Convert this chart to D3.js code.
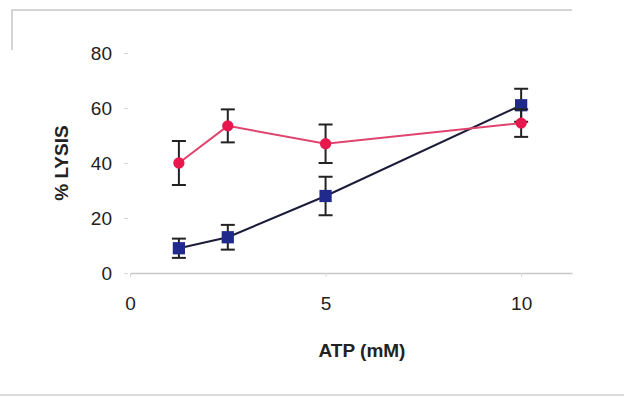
<!DOCTYPE html>
<html>
<head>
<meta charset="utf-8">
<script src="https://cdn.jsdelivr.net/npm/d3@7"></script>
<style>
  body { margin: 0; background: #fff; }
  svg { display: block; font-family: "Liberation Sans", Arial, sans-serif; }
</style>
</head>
<body>
<svg width="624" height="397"></svg>
<script>
// ATP concentrations (mM)
var atp = [1.25, 2.5, 5, 10];
// % lysis, red series (circles) and blue series (squares)
var redLysis = [40, 53.5, 47, 54.5];
var redErr = [8, 6, 7, 5];
var blueLysis = [9, 13, 28, 61];
var blueErr = [3.5, 4.5, 7, 6];
var yTicks = [0, 20, 40, 60, 80];
var xTicks = [0, 5, 10];

var svg = d3.select('svg');

var x = d3.scaleLinear().domain([0, 11.3]).range([130, 572]);
var y = d3.scaleLinear().domain([0, 80]).range([273, 53]);

// faint frame of the scanned figure
svg.append('path')
  .attr('d', 'M12,50 L12,10 L572,10')
  .attr('fill', 'none').attr('stroke', '#c8c8c8').attr('stroke-width', 1.5);
svg.append('line')
  .attr('x1', 0).attr('x2', 624).attr('y1', 395).attr('y2', 395)
  .attr('stroke', '#d0d0d0').attr('stroke-width', 1.5);

// x axis
var xAxis = svg.append('g')
  .attr('transform', 'translate(0,' + y(0) + ')')
  .call(d3.axisBottom(x).tickValues(xTicks).tickSize(4).tickPadding(20).tickSizeOuter(0));
xAxis.select('.domain').attr('stroke', '#c8c8c8').attr('stroke-width', 1.5);
xAxis.selectAll('.tick line').attr('stroke', '#d8d8d8');
xAxis.selectAll('text').attr('font-size', 19).attr('fill', '#222');

// y axis (no visible line, just faint ticks)
var yAxis = svg.append('g')
  .attr('transform', 'translate(128,0)')
  .call(d3.axisLeft(y).tickValues(yTicks).tickSize(4).tickPadding(12));
yAxis.select('.domain').remove();
yAxis.selectAll('.tick line').attr('stroke', '#d8d8d8');
yAxis.selectAll('text').attr('font-size', 19).attr('fill', '#222');

// axis titles
svg.append('text')
  .attr('transform', 'translate(68,' + y(40) + ') rotate(-90)')
  .attr('text-anchor', 'middle')
  .attr('font-size', 19).attr('font-weight', 'bold').attr('fill', '#222')
  .text('% LYSIS');
svg.append('text')
  .attr('x', 362).attr('y', 357)
  .attr('text-anchor', 'middle')
  .attr('font-size', 19).attr('font-weight', 'bold').attr('fill', '#222')
  .text('ATP (mM)');

var line = d3.line()
  .x(function (d) { return x(d[0]); })
  .y(function (d) { return y(d[1]); });

function drawSeries(vals, errs, lineColor, markColor, shape) {
  var pts = atp.map(function (a, i) { return [a, vals[i], errs[i]]; });

  svg.append('path')
    .datum(pts)
    .attr('d', line)
    .attr('fill', 'none')
    .attr('stroke', lineColor)
    .attr('stroke-width', 2);

  var eb = svg.append('g').selectAll('g').data(pts).enter().append('g')
    .attr('stroke', '#222').attr('stroke-width', 2);
  eb.append('line')
    .attr('x1', function (d) { return x(d[0]); })
    .attr('x2', function (d) { return x(d[0]); })
    .attr('y1', function (d) { return y(d[1] + d[2]); })
    .attr('y2', function (d) { return y(d[1] - d[2]); });
  eb.append('line')
    .attr('x1', function (d) { return x(d[0]) - 7; })
    .attr('x2', function (d) { return x(d[0]) + 7; })
    .attr('y1', function (d) { return y(d[1] + d[2]); })
    .attr('y2', function (d) { return y(d[1] + d[2]); });
  eb.append('line')
    .attr('x1', function (d) { return x(d[0]) - 7; })
    .attr('x2', function (d) { return x(d[0]) + 7; })
    .attr('y1', function (d) { return y(d[1] - d[2]); })
    .attr('y2', function (d) { return y(d[1] - d[2]); });

  svg.append('g').selectAll('path').data(pts).enter().append('path')
    .attr('transform', function (d) { return 'translate(' + x(d[0]) + ',' + y(d[1]) + ')'; })
    .attr('d', d3.symbol().type(shape).size(shape === d3.symbolSquare ? 150 : 100))
    .attr('fill', markColor);
}

drawSeries(blueLysis, blueErr, '#1c1c3a', '#1f2a8c', d3.symbolSquare);
drawSeries(redLysis, redErr, '#e0446e', '#e8184f', d3.symbolCircle);
</script>
</body>
</html>
